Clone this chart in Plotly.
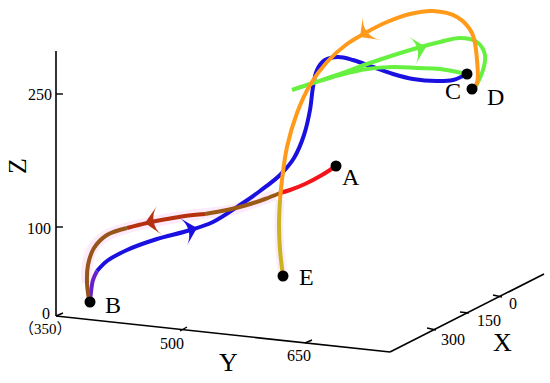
import plotly.graph_objects as go

SERIF = "Liberation Serif, Times New Roman, serif"

# Projected trajectories (horizontal, vertical position on the page)
ab_halo_x = [275, 247, 227, 200, 167, 147, 127, 107, 93, 87, 87]
ab_halo_y = [195, 205, 211, 214, 219, 223, 228, 235, 248, 267, 283]
ab_red_x = [336, 322, 305, 290, 280]
ab_red_y = [166, 175, 184, 190, 193]
ab_brown1_x = [280, 265, 247, 227, 205]
ab_brown1_y = [193, 199, 205, 210, 214]
ab_rust_x = [205, 185, 167, 147, 127]
ab_rust_y = [214, 216, 219, 223, 228]
ab_brown2_x = [127, 107, 94, 88, 87, 89]
ab_brown2_y = [228, 235, 248, 265, 283, 300]

bc_purple_x = [90, 91, 93, 97]
bc_purple_y = [302, 292, 280, 271]
bc_blue_x = [97, 107, 127, 157, 187, 213, 240, 260, 280, 294, 304, 310, 313, 317, 325, 338,
             353, 373, 393, 413, 437, 453, 465]
bc_blue_y = [271, 261, 250, 239, 231, 222, 205, 191, 175, 158, 135, 110, 87, 70, 60, 57,
             60, 67, 74, 79, 81, 80, 75]

cd_green_x = [467, 440, 417, 393, 367, 340, 313, 292, 313, 337, 370, 417, 440, 460, 477, 485, 483, 475]
cd_green_y = [74, 69, 68, 67, 69, 75, 83, 90, 83, 75, 63, 48, 42, 38, 42, 55, 70, 88]

de_orange_x = [472, 477, 477, 472, 457, 433, 410, 387, 367, 347, 327, 310, 297, 287, 282, 280]
de_orange_y = [89, 83, 60, 33, 17, 11, 14, 22, 32, 44, 62, 85, 113, 147, 180, 200]
de_olive_x = [280, 279, 280, 283]
de_olive_y = [200, 225, 250, 276]

point_names = ["A", "B", "C", "D", "E"]
point_x = [336, 90, 467, 472, 283]
point_y = [166, 302, 74, 89, 276]
name_x = [351, 113, 453, 495, 306]
name_y = [177, 305, 91, 97, 277]

arrow_x = [145, 197, 426, 360]
arrow_y = [223, 228, 47, 37]
arrow_angle = [-100, 75, 76, -127]
arrow_color = ["#b5300f", "#1a10e0", "#66f040", "#ff9a1a"]

z_axis_x = [56, 56]
z_axis_y = [316, 51]
y_axis_x = [56, 390]
y_axis_y = [316, 352]
x_axis_x = [390, 544]
x_axis_y = [352, 274]
tick_x = [[56, 63], [56, 63], [56, 63], [180, 187], [305, 312], [427, 436], [460, 469], [493, 502]]
tick_y = [[94, 94], [227, 227], [316, 313], [331, 327], [343, 340], [328, 330], [312, 313], [295, 297]]

tick_labels = ["250", "100", "0", "（350）", "500", "650", "300", "150", "0"]
tick_label_x = [40, 39, 46, 45, 172, 299, 453, 489, 513]
tick_label_y = [94, 228, 313, 329, 343, 355, 339, 320, 303]

axis_names = ["X", "Y", "Z"]
axis_name_x = [502, 228, 17]
axis_name_y = [342, 362, 166]
axis_name_angle = [0, 0, -90]

fig = go.Figure()


def line(x, y, color, width, shape="spline"):
    fig.add_trace(go.Scatter(x=x, y=y, mode="lines", hoverinfo="skip",
                             line=dict(color=color, width=width, shape=shape, smoothing=1.0)))


line(ab_halo_x, ab_halo_y, "#fdeafa", 11)
line(de_olive_x, de_olive_y, "#fdeafa", 9)
line(z_axis_x, z_axis_y, "#000000", 1.6, "linear")
line(y_axis_x, y_axis_y, "#000000", 1.6, "linear")
line(x_axis_x, x_axis_y, "#000000", 1.6, "linear")
for tx, ty in zip(tick_x, tick_y):
    line(tx, ty, "#000000", 1.4, "linear")

line(bc_blue_x, bc_blue_y, "#1a10e0", 4)
line(bc_purple_x, bc_purple_y, "#6a20c8", 4)
line(ab_red_x, ab_red_y, "#f5141a", 4)
line(ab_brown1_x, ab_brown1_y, "#9a5a14", 4)
line(ab_rust_x, ab_rust_y, "#b5300f", 4)
line(ab_brown2_x, ab_brown2_y, "#96561a", 4)
line(cd_green_x, cd_green_y, "#66f040", 4)
line(de_orange_x, de_orange_y, "#ff9a1a", 4)
line(de_olive_x, de_olive_y, "#c8b41e", 4)

fig.add_trace(go.Scatter(x=arrow_x, y=arrow_y, mode="markers", hoverinfo="skip",
                         marker=dict(symbol="arrow-wide", size=21, angle=arrow_angle,
                                     color=arrow_color, line=dict(width=0))))
fig.add_trace(go.Scatter(x=point_x, y=point_y, mode="markers", hoverinfo="skip",
                         marker=dict(size=11, color="#000000", line=dict(width=0))))

for t, x, y in zip(point_names, name_x, name_y):
    fig.add_annotation(x=x, y=y, text=t, showarrow=False, font=dict(family=SERIF, size=24, color="#000000"))
for t, x, y in zip(tick_labels, tick_label_x, tick_label_y):
    fam = "Noto Sans CJK SC" if "（" in t else SERIF
    fig.add_annotation(x=x, y=y, text=t, showarrow=False,
                       font=dict(family=SERIF + ", " + fam, size=16 if "（" not in t else 15, color="#000000"))
for t, x, y, a in zip(axis_names, axis_name_x, axis_name_y, axis_name_angle):
    fig.add_annotation(x=x, y=y, text=t, textangle=a, showarrow=False,
                       font=dict(family=SERIF, size=26, color="#000000"))

fig.update_layout(
    width=550, height=383, margin=dict(l=0, r=0, t=0, b=0), showlegend=False,
    paper_bgcolor="#ffffff", plot_bgcolor="#ffffff",
    xaxis=dict(range=[0, 550], visible=False, fixedrange=True),
    yaxis=dict(range=[383, 0], visible=False, fixedrange=True),
)
fig.write_html("out.html", config={"displayModeBar": False},
               post_script="document.body.style.margin='0';document.body.style.overflow='hidden';")
